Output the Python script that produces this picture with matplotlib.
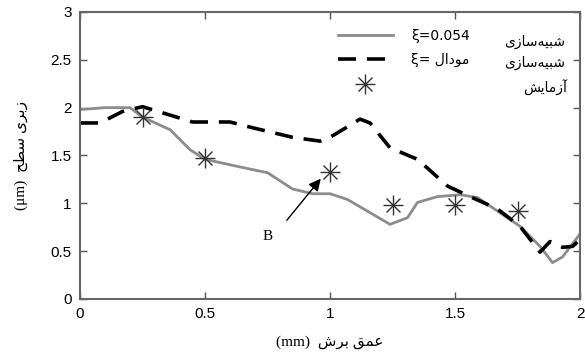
import matplotlib
matplotlib.use("Agg")
import matplotlib.pyplot as plt
from matplotlib.lines import Line2D

# ---- data ----
sim_x = [0.0, 0.1, 0.2, 0.25, 0.36, 0.44, 0.5, 0.64, 0.75, 0.85, 0.93, 1.0,
         1.07, 1.24, 1.31, 1.35, 1.43, 1.52, 1.59, 1.76, 1.84, 1.89, 1.93, 2.0]
sim_y = [1.98, 2.0, 2.0, 1.9, 1.77, 1.56, 1.46, 1.38, 1.32, 1.15, 1.1, 1.1,
         1.04, 0.78, 0.85, 1.01, 1.07, 1.09, 1.06, 0.76, 0.55, 0.38, 0.44, 0.68]

modal_x = [0.0, 0.08, 0.17, 0.25, 0.35, 0.45, 0.6, 0.69, 0.85, 0.96, 1.0,
           1.07, 1.12, 1.16, 1.24, 1.35, 1.47, 1.56, 1.67, 1.76, 1.84, 1.88,
           1.93, 1.97, 2.0]
modal_y = [1.84, 1.84, 1.96, 2.01, 1.93, 1.85, 1.85, 1.79, 1.69, 1.65, 1.69,
           1.8, 1.88, 1.84, 1.58, 1.46, 1.18, 1.07, 0.94, 0.76, 0.49, 0.6,
           0.54, 0.55, 0.62]

exp_x = [0.25, 0.5, 1.0, 1.25, 1.5, 1.75]
exp_y = [1.9, 1.47, 1.33, 0.98, 0.98, 0.92]

xticks = [0, 0.5, 1, 1.5, 2]
xtick_labels = ["0", "0.5", "1", "1.5", "2"]
yticks = [0, 0.5, 1, 1.5, 2, 2.5, 3]
ytick_labels = ["0", "0.5", "1", "1.5", "2", "2.5", "3"]

# Persian words in visual order (presentation forms)
w_sim = "\uFEEF\uFEAF\uFE8E\uFEB3\uFEEA\uFEF4\uFE92\uFEB7"      # شبیه‌سازی
w_modal = "\uFEDD\uFE8D\uFEA9\uFEEE\uFEE3"                      # مودال
w_exp = "\uFEB6\uFEF3\uFE8E\uFEE3\uFEAF\uFE81"                  # آزمایش
w_rough = "\uFEEF\uFEAE\uFE91\uFEAF"                            # زبری
w_surf = "\uFEA2\uFEC4\uFEB3"                                   # سطح
w_depth = "\uFED6\uFEE4\uFECB"                                  # عمق
w_cut = "\uFEB5\uFEAE\uFE91"                                    # برش

fig = plt.figure(figsize=(5.85, 3.52), dpi=100)
ax = fig.add_axes([0.1368, 0.1506, 0.8547, 0.8154])

ax.plot(sim_x, sim_y, color="#8c8c8c", lw=2.0)
ax.plot(modal_x, modal_y, color="black", lw=2.6, dashes=(5, 3))
ax.plot(exp_x, exp_y, ls="none", marker="+", ms=14, mew=1.0, color="#333333")
ax.plot(exp_x, exp_y, ls="none", marker="x", ms=10, mew=1.0, color="#333333")

ax.set_xlim(0, 2)
ax.set_ylim(0, 3)
ax.set_xticks(xticks)
ax.set_xticklabels(xtick_labels)
ax.set_yticks(yticks)
ax.set_yticklabels(ytick_labels)
ax.tick_params(direction="in", length=5, width=1, color="#555555",
               labelsize=11, top=True, right=True, pad=6)
for lab in ax.get_xticklabels() + ax.get_yticklabels():
    lab.set_family(["Liberation Sans"])
for sp in ax.spines.values():
    sp.set_color("#666666")
    sp.set_linewidth(1.5)

ax.set_xlabel("(mm)  " + w_cut + " " + w_depth,
              family=["Liberation Serif", "DejaVu Sans"], fontsize=11, labelpad=10)
ax.set_ylabel("(\u03bcm)  " + w_surf + " " + w_rough,
              family=["Liberation Serif", "DejaVu Sans"], fontsize=11, labelpad=16)

# legend
h1 = Line2D([], [], color="#8c8c8c", lw=2.0)
h2 = Line2D([], [], color="black", lw=2.6, dashes=(5, 3))
h3a = Line2D([], [], ls="none", marker="+", ms=14, mew=1.0, color="#333333")
h3b = Line2D([], [], ls="none", marker="x", ms=10, mew=1.0, color="#333333")
leg = ax.legend([h1, h2, (h3a, h3b)],
                ["\u03be=0.054", "\u03be= " + w_modal, " "],
                loc="upper left", bbox_to_anchor=(0.49, 0.985), frameon=False,
                handlelength=4.0, handletextpad=1.3, labelspacing=0.75,
                prop={"family": ["DejaVu Sans"], "size": 10})

ax.text(0.97, 0.895, w_sim, transform=ax.transAxes, ha="right", va="center",
        family=["DejaVu Sans"], fontsize=10)
ax.text(0.97, 0.822, w_sim, transform=ax.transAxes, ha="right", va="center",
        family=["DejaVu Sans"], fontsize=10)
ax.text(0.975, 0.735, w_exp, transform=ax.transAxes, ha="right", va="center",
        family=["DejaVu Sans"], fontsize=10)

# arrow annotation
ax.annotate("", xy=(0.97, 1.28), xytext=(0.82, 0.80),
            arrowprops=dict(arrowstyle="-|>", color="black", lw=1.0,
                            mutation_scale=18))
ax.text(0.75, 0.65, "B", ha="center", va="center",
        family=["Liberation Serif"], fontsize=11)

fig.savefig("out.png", dpi=100)
